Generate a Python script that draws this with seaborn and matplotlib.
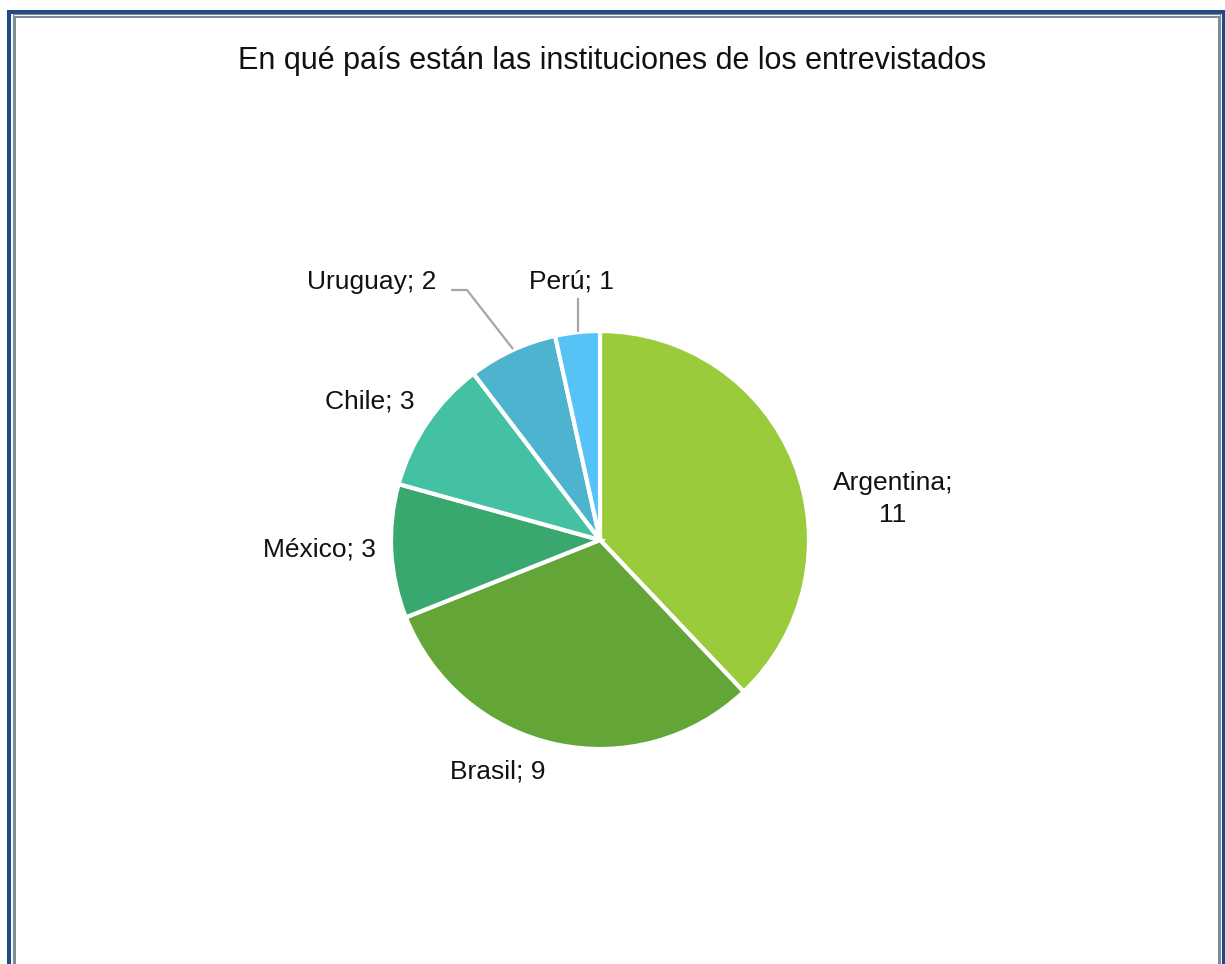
import matplotlib
matplotlib.use("Agg")
import matplotlib.pyplot as plt
import seaborn as sns
from matplotlib.patches import Rectangle

sns.set_style("white")
plt.rcParams['font.family'] = ['Liberation Sans', 'DejaVu Sans']

countries = ["Argentina", "Brasil", "México", "Chile", "Uruguay", "Perú"]
counts = [11, 9, 3, 3, 2, 1]
colors = ["#9ACB3A", "#64A537", "#38A86E", "#44C0A2", "#4DB3CF", "#55C3F5"]
title = "En qué país están las instituciones de los entrevistados"

W, H = 1225, 964
fig = plt.figure(figsize=(W / 100, H / 100), dpi=100)
fig.patch.set_facecolor("white")
ax = fig.add_axes([0, 0, 1, 1])

cx, cy, R = 600, 540, 209  # pixel layout of pie


def P(px, py):
    return (px - cx) / R, (cy - py) / R


ax.pie(counts, colors=colors, startangle=90, counterclock=False, radius=1,
       wedgeprops=dict(edgecolor="white", linewidth=3))
ax.set_xlim(-cx / R, (W - cx) / R)
ax.set_ylim(-(H - cy) / R, cy / R)
ax.set_aspect("equal")
ax.axis("off")

fs = 19
label_pos = {
    "Argentina": (893, 499),
    "Brasil": (498, 772),
    "México": (319, 550),
    "Chile": (370, 401),
    "Uruguay": (372, 282),
    "Perú": (571, 282),
}
for name, val in zip(countries, counts):
    px, py = label_pos[name]
    if name == "Argentina":
        txt = f"{name};\n{val}"
    else:
        txt = f"{name}; {val}"
    x, y = P(px, py)
    ax.text(x, y, txt, ha="center", va="center", fontsize=fs, color="#111111",
            linespacing=1.4)

# leader lines
lc = "#A6A6A6"
xs, ys = zip(*[P(451, 290), P(467, 290), P(513, 349)])
ax.plot(xs, ys, color=lc, lw=1.6, solid_capstyle="butt")
xs, ys = zip(*[P(578, 298), P(578, 332)])
ax.plot(xs, ys, color=lc, lw=1.6, solid_capstyle="butt")

fig.text(612 / W, 1 - 61 / H, title, ha="center", va="center", fontsize=22,
         color="#111111")


# page border
def frame(x0, y0, x1, lw_px, color):
    y1 = H + 30
    r = Rectangle((x0 / W, 1 - y1 / H), (x1 - x0) / W, (y1 - y0) / H,
                  transform=fig.transFigure, fill=False, edgecolor=color,
                  linewidth=lw_px * 0.72, zorder=10)
    fig.add_artist(r)


frame(9, 11.5, 1224, 4, "#1F4B82")
frame(12.7, 14.5, 1220.3, 1.2, "#7F8A9A")
frame(15, 17.5, 1218.5, 2, "#7F8A9A")

fig.savefig("out.png", dpi=100, facecolor="white")
